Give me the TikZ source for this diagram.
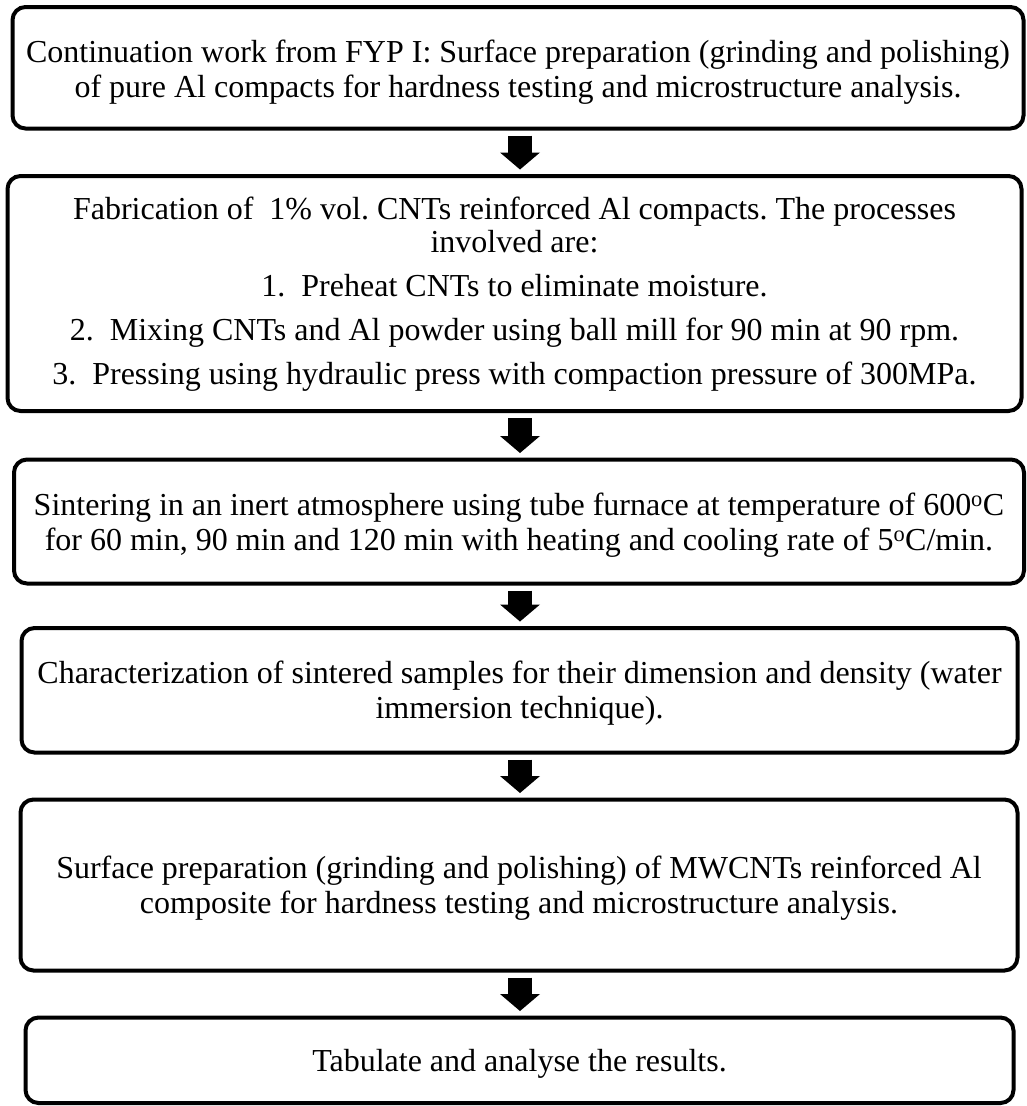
\documentclass[tikz,border=0pt]{standalone}
\usepackage{fontspec}
\setmainfont{Liberation Serif}
\usetikzlibrary{arrows.meta,calc}
\tikzset{
  box/.style={draw, line width=4pt, rounded corners=13pt,
    inner sep=0pt, outer sep=0pt},
  txt/.style={align=center, inner sep=0pt, font=\fontsize{32}{35}\selectfont},
  flow/.style={line width=24pt,
    -{Triangle[length=17pt,width=40pt,line width=0pt]}}
}
\frenchspacing
\begin{document}
\begin{tikzpicture}[x=1pt,y=-1pt]
\useasboundingbox (0,0) rectangle (1026,1106);
\coordinate (ax) at (520,0);
\node[box, minimum width=1011pt, minimum height=121.5pt] (b1) at (518,67.75) {};
\node[txt] (t1) at ($(b1.center)+(0,4)$)
  {Continuation work from FYP I: Surface preparation (grinding and polishing)\\
   of pure Al compacts for hardness testing and microstructure analysis.};
\node[box, minimum width=1014pt, minimum height=235pt] (b2) at (514.5,293.5) {};
\node[txt] (t2) at ($(b2.center)+(0,1)$)
  {Fabrication of\ \ 1\% vol. CNTs reinforced Al compacts. The processes\\[-2pt]
   involved are:\\[9pt]
   1.\ \ Preheat CNTs to eliminate moisture.\\[9pt]
   2.\ \ Mixing CNTs and Al powder using ball mill for 90 min at 90 rpm.\\[9pt]
   3.\ \ Pressing using hydraulic press with compaction pressure of 300MPa.};
\node[box, minimum width=1010pt, minimum height=124pt] (b3) at (519,521.5) {};
\node[txt] (t3) at ($(b3.center)+(0,4)$)
  {Sintering in an inert atmosphere using tube furnace at temperature of 600\textsuperscript{o}C\\
   for 60 min, 90 min and 120 min with heating and cooling rate of 5\textsuperscript{o}C/min.};
\node[box, minimum width=996pt, minimum height=124.5pt] (b4) at (519.5,690.25) {};
\node[txt] (t4) at ($(b4.center)+(0,2.5)$)
  {Characterization of sintered samples for their dimension and density (water\\
   immersion technique).};
\node[box, minimum width=997pt, minimum height=171pt] (b5) at (519,885) {};
\node[txt] (t5) at ($(b5.center)+(0,3.5)$)
  {Surface preparation (grinding and polishing) of MWCNTs reinforced Al\\
   composite for hardness testing and microstructure analysis.};
\node[box, minimum width=988pt, minimum height=85.5pt] (b6) at (519.5,1060.25) {};
\node[txt] (t6) at ($(b6.center)+(0,4)$)
  {Tabulate and analyse the results.};
\draw[flow] ($(b1.south -| ax)+(0,7)$) -- ($(b2.north -| ax)+(0,-6.5)$);
\draw[flow] ($(b2.south -| ax)+(0,7)$) -- ($(b3.north -| ax)+(0,-6.5)$);
\draw[flow] ($(b3.south -| ax)+(0,7)$) -- ($(b4.north -| ax)+(0,-6.5)$);
\draw[flow] ($(b4.south -| ax)+(0,7)$) -- ($(b5.north -| ax)+(0,-6.5)$);
\draw[flow] ($(b5.south -| ax)+(0,7)$) -- ($(b6.north -| ax)+(0,-6.5)$);
\end{tikzpicture}
\end{document}
